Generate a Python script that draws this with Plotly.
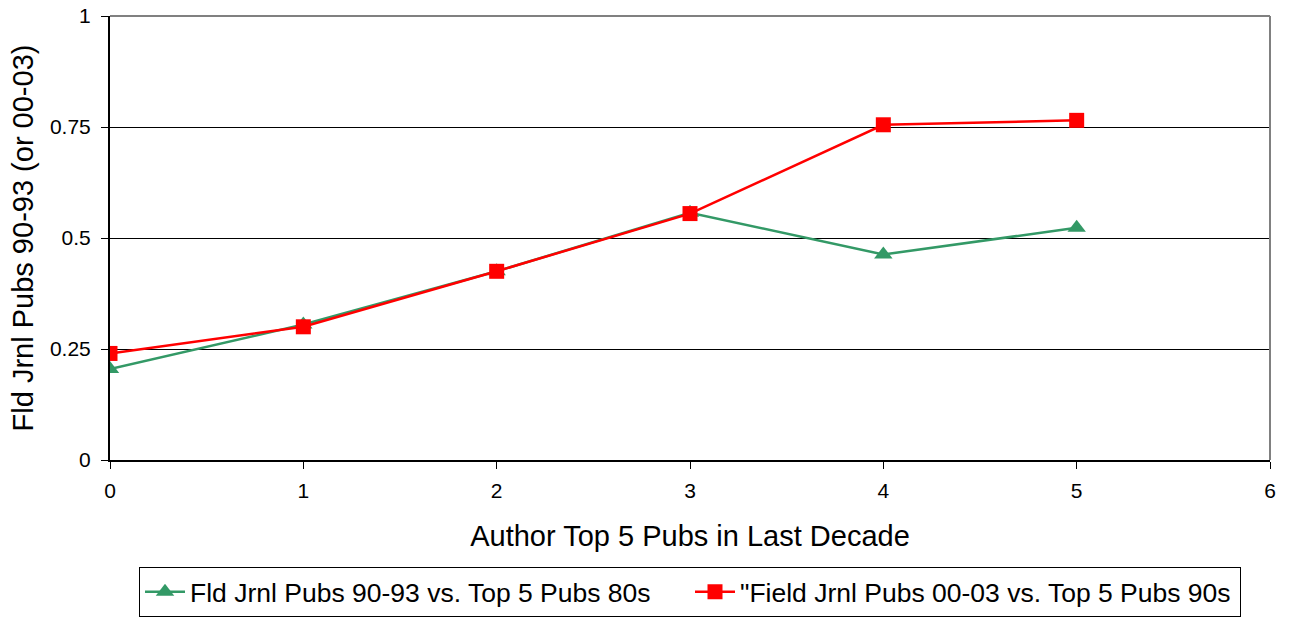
import plotly.graph_objects as go

x_vals = [0, 1, 2, 3, 4, 5]
green_vals = [0.205, 0.305, 0.425, 0.557, 0.463, 0.523]
red_vals = [0.240, 0.300, 0.425, 0.555, 0.755, 0.765]
green_name = "Fld Jrnl Pubs 90-93 vs. Top 5 Pubs 80s"
red_name = "\"Field Jrnl Pubs 00-03 vs. Top 5 Pubs 90s"
y_ticks = [0, 0.25, 0.5, 0.75, 1]
y_tick_labels = ["0", "0.25", "0.5", "0.75", "1"]
x_ticks = [0, 1, 2, 3, 4, 5, 6]

FONT = "Liberation Sans, Arial, sans-serif"

fig = go.Figure()
fig.add_trace(go.Scatter(
    x=x_vals, y=green_vals, name=green_name, mode="lines+markers",
    line=dict(color="#339966", width=2.5),
    marker=dict(symbol="triangle-up", size=16, color="#339966"),
))
fig.add_trace(go.Scatter(
    x=x_vals, y=red_vals, name=red_name, mode="lines+markers",
    line=dict(color="#FF0000", width=2.5),
    marker=dict(symbol="square", size=15, color="#FF0000"),
))

fig.update_layout(
    width=1292, height=619,
    margin=dict(l=110, r=22, t=16, b=159),
    paper_bgcolor="white", plot_bgcolor="white",
    font=dict(family=FONT, color="black"),
    showlegend=True,
    legend=dict(
        orientation="h", x=0.5, xanchor="center",
        yref="container", y=0.003, yanchor="bottom",
        bordercolor="black", borderwidth=1, font=dict(size=26.5, family=FONT),
        itemwidth=40, tracegroupgap=0, entrywidth=495, entrywidthmode="pixels",
    ),
    xaxis=dict(
        range=[0, 6], tickvals=x_ticks, showgrid=False, zeroline=False,
        showline=True, linecolor="black", linewidth=2, automargin=False,
        ticks="outside", ticklen=7, tickcolor="black",
        tickfont=dict(size=21), ticklabelstandoff=4,
        title=dict(text="Author Top 5 Pubs in Last Decade", font=dict(size=29), standoff=24),
    ),
    yaxis=dict(
        range=[0, 1], tickvals=y_ticks, ticktext=y_tick_labels,
        showgrid=True, gridcolor="#000000", gridwidth=1, zeroline=False,
        showline=True, linecolor="black", linewidth=2, automargin=False,
        ticks="outside", ticklen=7, tickcolor="black",
        tickfont=dict(size=21), ticklabelstandoff=6,
        title=dict(text="Fld Jrnl Pubs 90-93 (or 00-03)", font=dict(size=29), standoff=8),
    ),
    shapes=[
        dict(type="line", xref="paper", yref="paper", x0=0, x1=1, y0=1, y1=1,
             line=dict(color="#808080", width=2)),
        dict(type="line", xref="paper", yref="paper", x0=1, x1=1, y0=0, y1=1,
             line=dict(color="#808080", width=2)),
    ],
)

fig.write_html("out.html", config={"displayModeBar": False},
               post_script="document.body.style.margin='0';")
